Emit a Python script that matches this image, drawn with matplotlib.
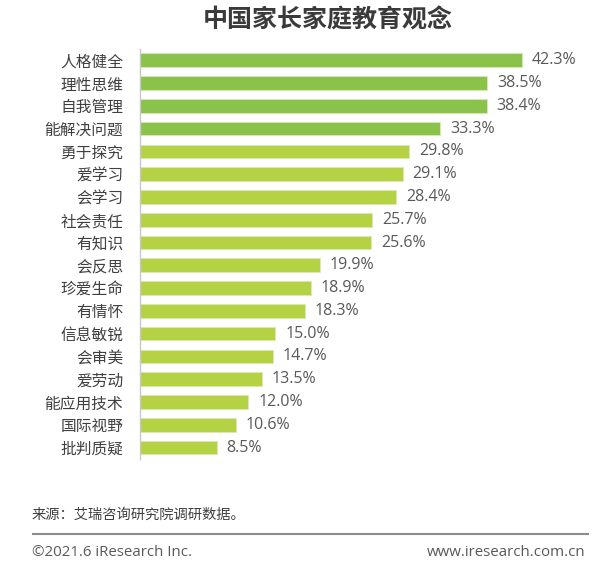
import matplotlib
matplotlib.use("Agg")
import matplotlib.pyplot as plt
import numpy as np

plt.rcParams['font.family'] = ['Noto Sans CJK SC', 'DejaVu Sans']
latin = ['Open Sans', 'DejaVu Sans']

# data
categories = ["人格健全", "理性思维", "自我管理", "能解决问题", "勇于探究", "爱学习",
              "会学习", "社会责任", "有知识", "会反思", "珍爱生命", "有情怀",
              "信息敏锐", "会审美", "爱劳动", "能应用技术", "国际视野", "批判质疑"]
values = [42.3, 38.5, 38.4, 33.3, 29.8, 29.1, 28.4, 25.7, 25.6, 19.9, 18.9,
          18.3, 15.0, 14.7, 13.5, 12.0, 10.6, 8.5]
n_top = 4  # first four bars are drawn in the darker green

dark_green = "#8bc34a"
light_green = "#b5d144"

fig = plt.figure(figsize=(6.0, 5.68), dpi=100)
ax = fig.add_axes([0.2333, 0.192, 0.752, 0.722])

y = np.arange(len(categories))
colors = [dark_green if i < n_top else light_green for i in range(len(categories))]
ax.barh(y, values, height=0.6, color=colors, edgecolor="#d8eab8", linewidth=0.6)

for yi, v in zip(y, values):
    ax.text(v + 1.1, yi, "{:.1f}%".format(v), va="center", ha="left",
            fontsize=11.5, color="#595959", family=latin)

ax.set_yticks(y)
ax.set_yticklabels(categories, fontsize=11.3, color="#404040")
ax.set_ylim(17.5, -0.5)
ax.set_xlim(0, 50)
ax.set_xticks([])
ax.tick_params(axis="y", length=0, pad=12)

for side in ["top", "right", "bottom"]:
    ax.spines[side].set_visible(False)
ax.spines["left"].set_color("#c8c8c8")
ax.spines["left"].set_linewidth(1.0)

fig.text(0.547, 0.964, "中国家长家庭教育观念", ha="center", va="center",
         fontsize=18, fontweight="bold", color="#3a3a3a")

fig.text(0.053, 0.093, "来源：艾瑞咨询研究院调研数据。", ha="left", va="center",
         fontsize=10.3, color="#404040")
fig.add_artist(plt.Line2D([0.055, 0.98], [0.060, 0.060], color="#8c8c8c",
                          linewidth=1.5, transform=fig.transFigure))
fig.text(0.053, 0.028, "©2021.6 iResearch Inc.", ha="left", va="center",
         fontsize=10.8, color="#595959", family=latin)
fig.text(0.975, 0.028, "www.iresearch.com.cn", ha="right", va="center",
         fontsize=10.8, color="#595959", family=latin)

fig.savefig("out.png", dpi=100, facecolor="white")
